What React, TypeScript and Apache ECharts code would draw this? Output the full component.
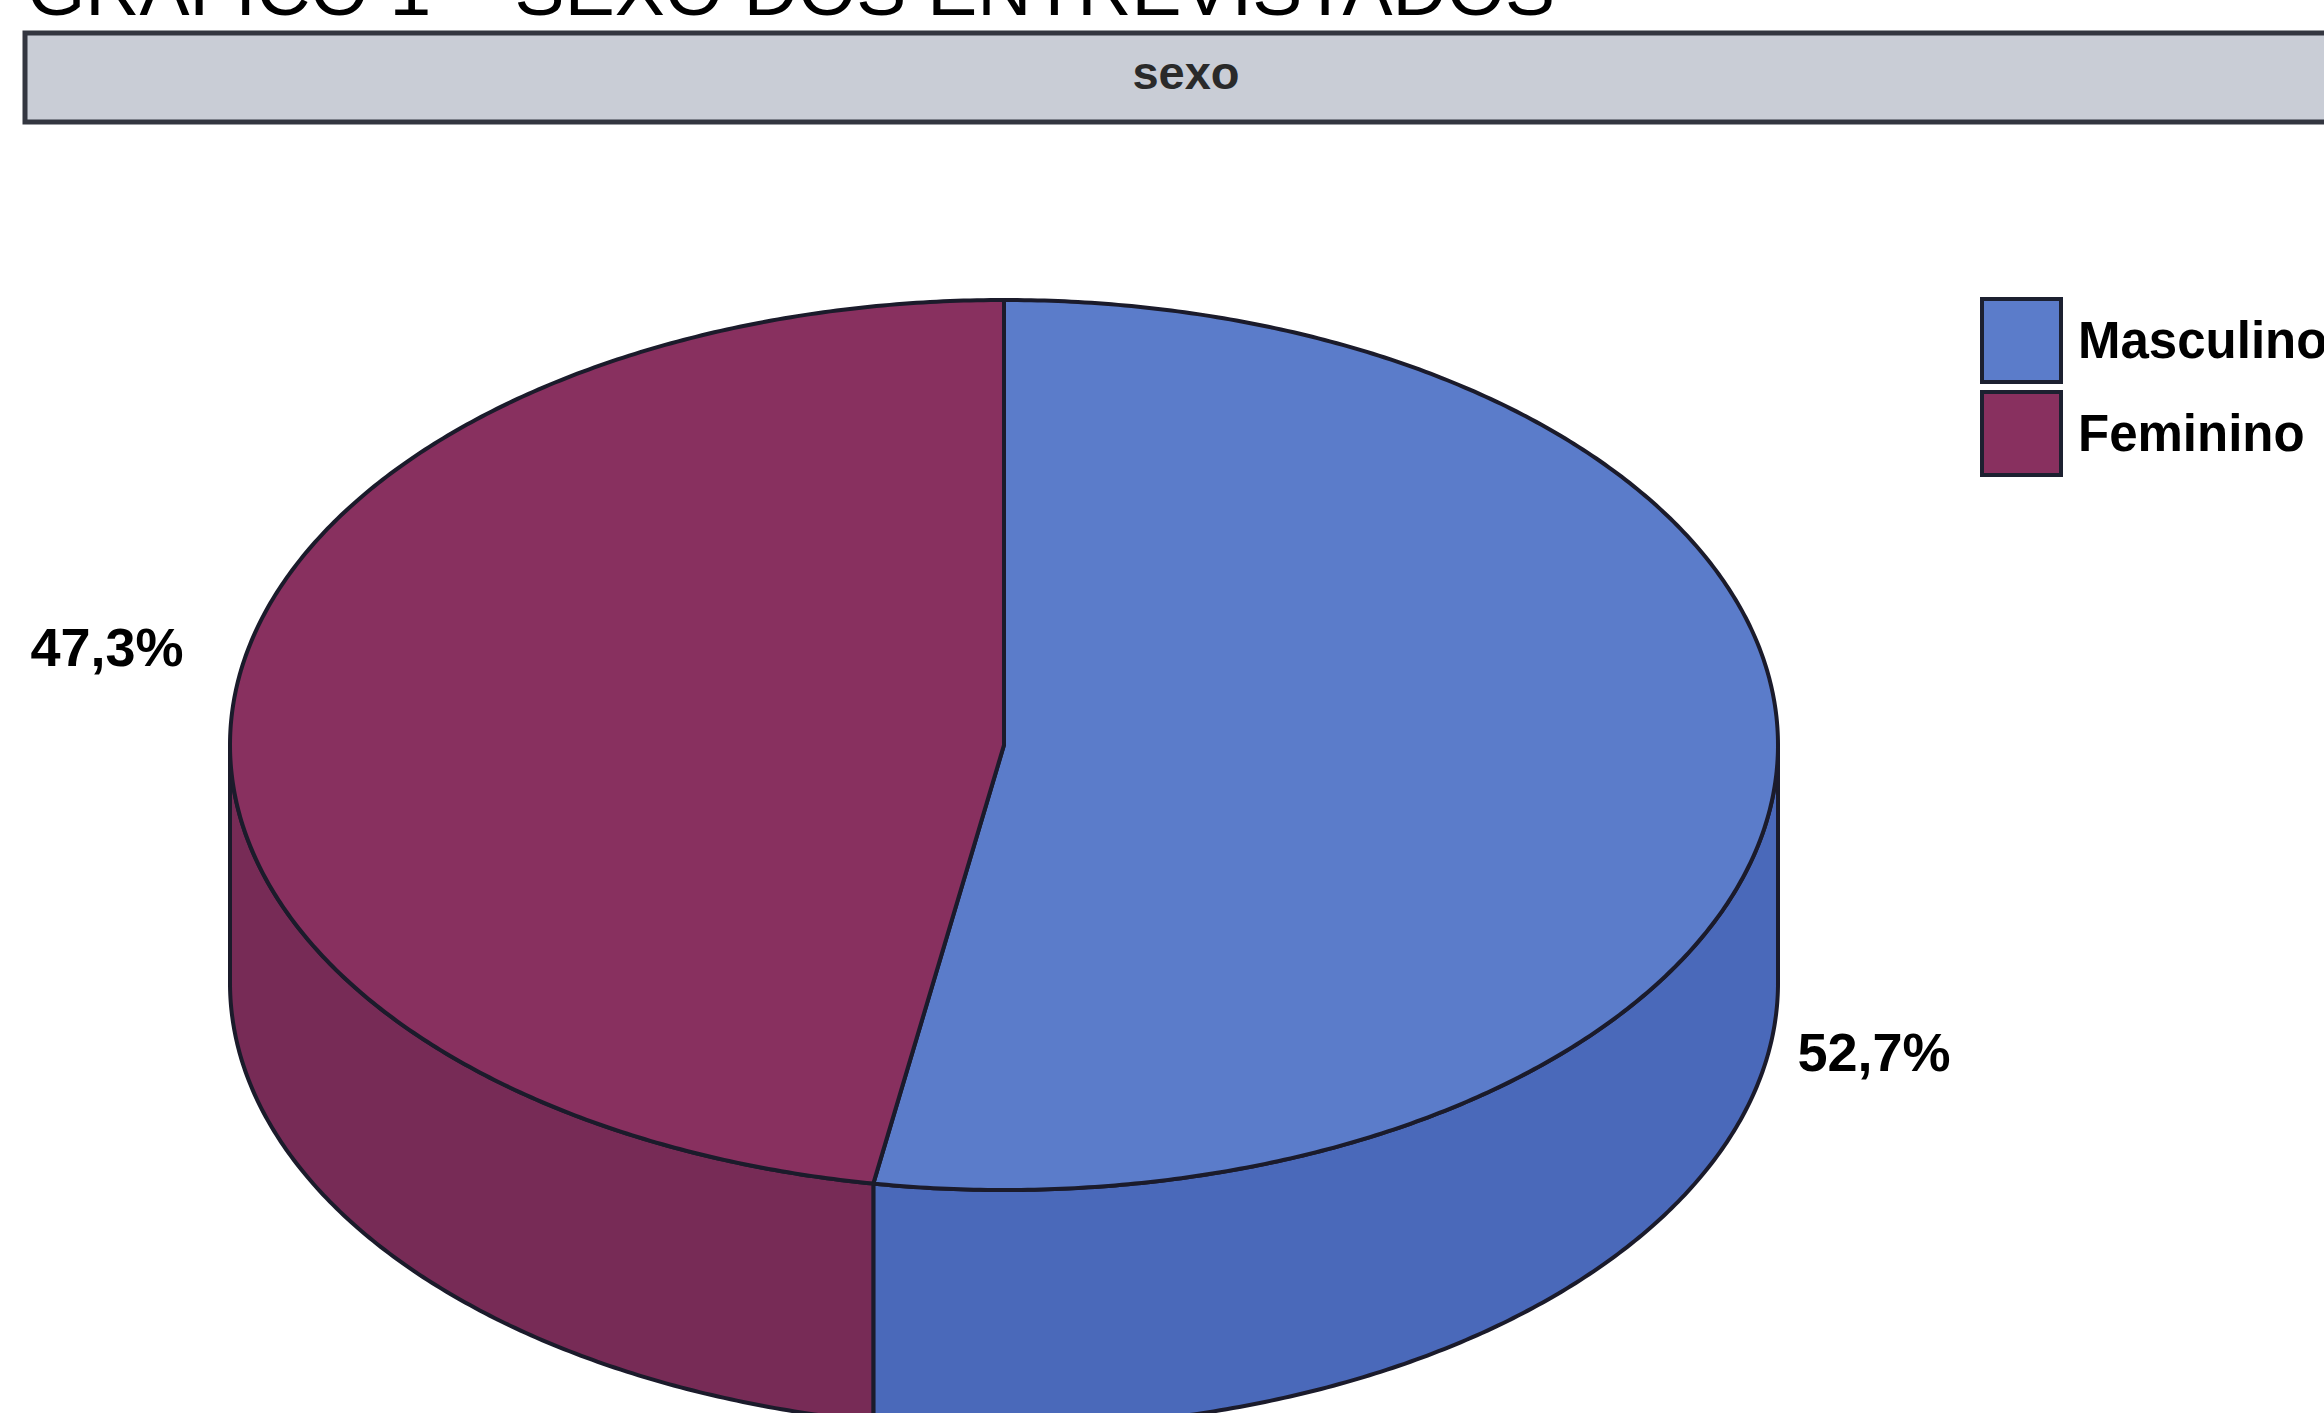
import React, { useEffect, useRef } from 'react';
import * as echarts from 'echarts';

// ---- data ----
const categories: string[] = ['Masculino', 'Feminino'];
const percentages: number[] = [52.7, 47.3];
const titleText = 'GRÁFICO 1 – SEXO DOS ENTREVISTADOS';
const headerText = 'sexo';

// ---- layout / style ----
const topColors = ['#5b7cca', '#88305f'];
const sideColors = ['#4a69ba', '#772b56'];
const STROKE = '#1b1b2b';
const FONT = '"Liberation Sans", Arial, Helvetica, sans-serif';
const PIE = { cx: 1004, cy: 745, rx: 774, ry: 445, depth: 238 };
const LABEL_POS: number[][] = [[1874, 1052], [107, 647]];

function pt(theta: number, dz: number): number[] {
  const r = (theta * Math.PI) / 180;
  return [PIE.cx + PIE.rx * Math.sin(r), PIE.cy - PIE.ry * Math.cos(r) + dz];
}

function arc(a0: number, a1: number, dz: number): number[][] {
  const n = Math.max(2, Math.ceil(Math.abs(a1 - a0) / 0.5));
  const pts: number[][] = [];
  for (let i = 0; i <= n; i++) pts.push(pt(a0 + ((a1 - a0) * i) / n, dz));
  return pts;
}

function fmt(v: number): string {
  return v.toFixed(1).replace('.', ',') + '%';
}

export default function App() {
  const ref = useRef<HTMLDivElement>(null);
  useEffect(() => {
    if (!ref.current) return;
    const chart = echarts.init(ref.current, undefined, { renderer: 'svg' });
    const total = percentages.reduce((a, b) => a + b, 0);

    const series = categories.map((name, k) => ({
      type: 'custom',
      name,
      coordinateSystem: 'none',
      silent: true,
      itemStyle: { color: topColors[k] },
      data: [[percentages[k]]],
      renderItem: (_params: any, api: any) => {
        const v = api.value(0) as number;
        const before = percentages.slice(0, k).reduce((a, b) => a + b, 0);
        const start = (before / total) * 360;
        const end = start + (v / total) * 360;
        const children: any[] = [];
        const s = Math.max(start, 90);
        const e = Math.min(end, 270);
        if (e > s) {
          const topEdge = arc(s, e, 0);
          const botEdge = arc(e, s, PIE.depth);
          children.push({
            type: 'polygon',
            z2: 1,
            shape: { points: topEdge.concat(botEdge) },
            style: { fill: sideColors[k], stroke: STROKE, lineWidth: 4, lineJoin: 'round' },
          });
        }
        children.push({
          type: 'polygon',
          z2: 2,
          shape: { points: [[PIE.cx, PIE.cy]].concat(arc(start, end, 0)) },
          style: { fill: topColors[k], stroke: STROKE, lineWidth: 4, lineJoin: 'round' },
        });
        children.push({
          type: 'text',
          z2: 3,
          x: LABEL_POS[k][0],
          y: LABEL_POS[k][1],
          style: {
            text: fmt(v),
            fill: '#000',
            font: `bold 54px ${FONT}`,
            align: 'center',
            verticalAlign: 'middle',
          },
        });
        return { type: 'group', children };
      },
    }));

    chart.setOption({
      animation: false,
      backgroundColor: '#ffffff',
      legend: {
        data: categories,
        orient: 'vertical',
        left: 1975,
        top: 292,
        icon: 'rect',
        itemWidth: 79,
        itemHeight: 83,
        itemGap: 6,
        selectedMode: false,
        itemStyle: { borderColor: '#1c2030', borderWidth: 4 },
        textStyle: {
          fontFamily: FONT,
          fontSize: 51,
          fontWeight: 'bold',
          color: '#000',
          padding: [0, 0, 8, 12],
        },
      },
      graphic: [
        {
          type: 'text',
          x: 27,
          y: -11,
          style: {
            text: titleText,
            font: `75px ${FONT}`,
            fill: '#000',
            align: 'left',
            verticalAlign: 'middle',
          },
        },
        {
          type: 'rect',
          shape: { x: 25, y: 33, width: 2340, height: 89 },
          style: { fill: '#c9cdd6', stroke: '#333640', lineWidth: 5 },
        },
        {
          type: 'text',
          x: 1186,
          y: 72,
          style: {
            text: headerText,
            font: `bold 47px ${FONT}`,
            fill: '#2a2a2a',
            align: 'center',
            verticalAlign: 'middle',
          },
        },
      ],
      series,
    });
    return () => chart.dispose();
  }, []);

  return (
    <div
      ref={ref}
      style={{ position: 'fixed', left: 0, top: 0, width: 2324, height: 1413, background: '#fff' }}
    />
  );
}
